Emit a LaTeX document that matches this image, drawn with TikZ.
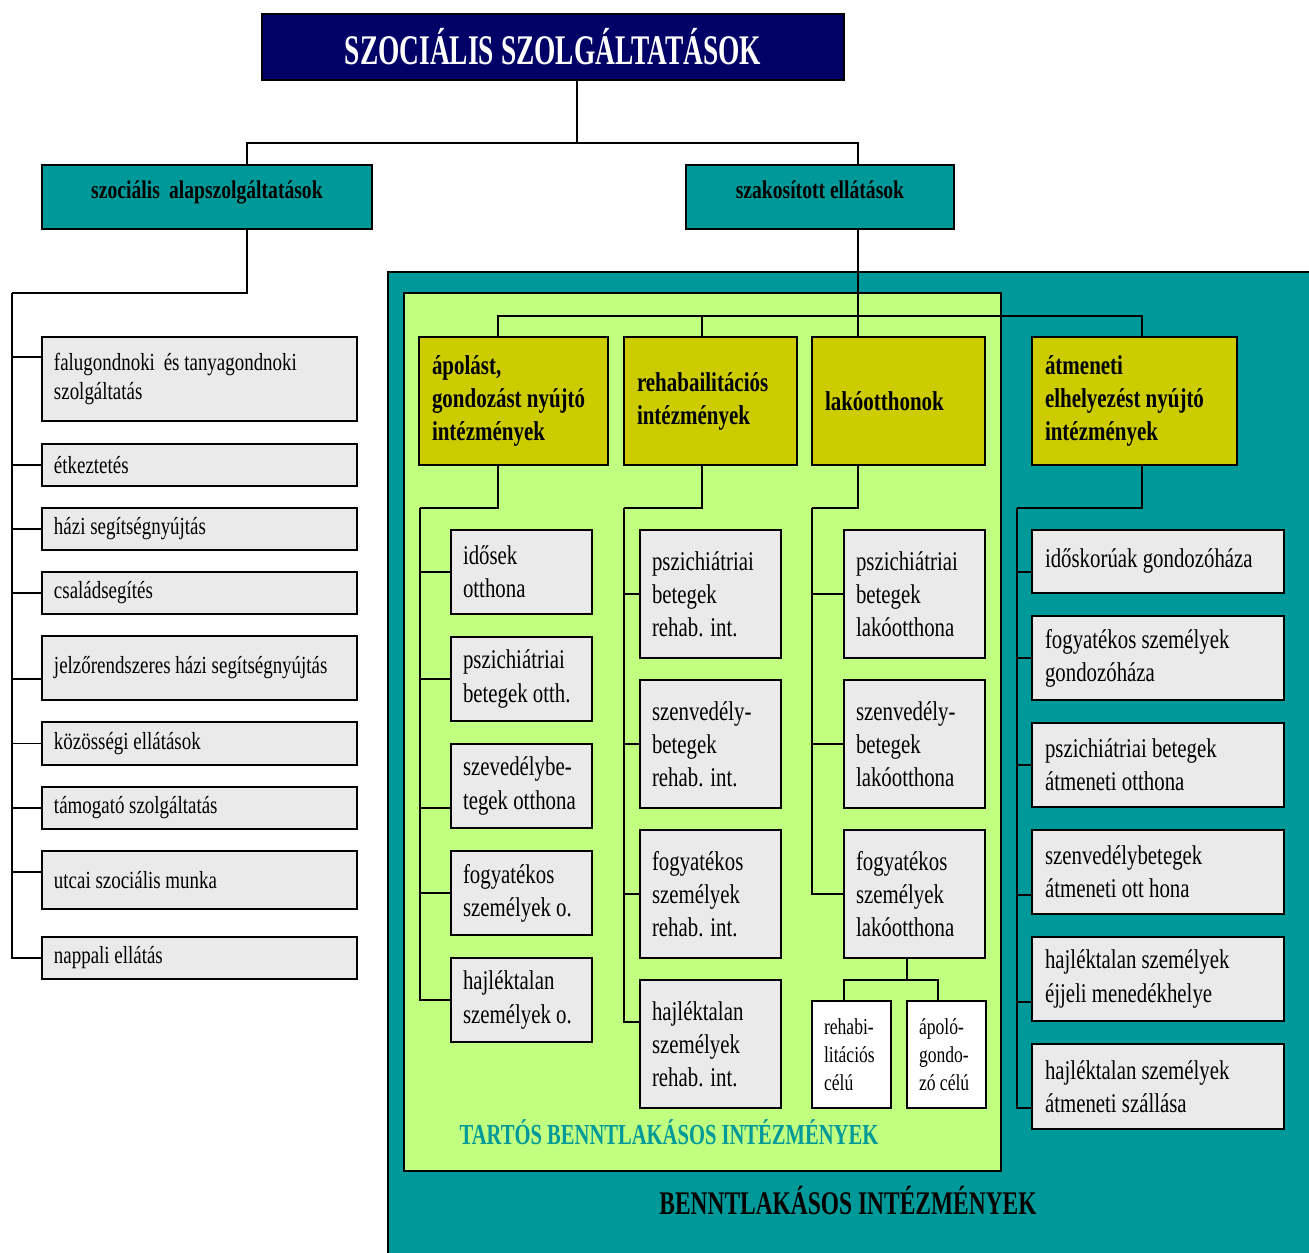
\documentclass[tikz,border=0pt]{standalone}
\usepackage{fontspec}
\setmainfont{Liberation Serif}[FakeStretch=0.77]
\newfontfamily\titlefont{Liberation Serif}[FakeStretch=0.65]
\newfontfamily\panelfont{Liberation Serif}[FakeStretch=0.71]
\definecolor{navyblue}{HTML}{000066}
\definecolor{tealbox}{HTML}{009999}
\definecolor{olivebox}{HTML}{CCCC00}
\definecolor{palegreen}{HTML}{C0FF80}
\definecolor{boxgray}{HTML}{EAEAEA}

\begin{document}
\begin{tikzpicture}[x=0.02cm,y=-0.02cm,line width=0.8pt,
  every node/.style={anchor=north west,inner sep=0pt,outer sep=0pt},
  hbox/.style={draw,fill=tealbox,minimum height=1.28cm,text depth=0.3cm,font=\bfseries\fontsize{14.5}{17}\selectfont},
  ybox/.style={draw,fill=olivebox,minimum height=2.56cm,inner xsep=0.26cm,align=flush left,font=\bfseries\fontsize{15.5}{18.8}\selectfont},
  lbox/.style={draw,fill=boxgray,text width=5.82cm,inner xsep=0.24cm,align=flush left,minimum height=0.84cm,font=\fontsize{14}{17}\selectfont},
  mbox/.style={draw,fill=boxgray,text width=2.34cm,inner xsep=0.24cm,align=flush left,font=\fontsize{15.4}{18.8}\selectfont},
  rbox/.style={draw,fill=boxgray,text width=4.52cm,inner xsep=0.26cm,align=flush left,minimum height=1.68cm,font=\fontsize{15.4}{18.8}\selectfont},
  wbox/.style={draw,fill=white,text width=1.1cm,inner xsep=0.24cm,minimum height=2.14cm,align=flush left,font=\fontsize{13}{16}\selectfont}]
\useasboundingbox (0,0) rectangle (1309,1252);

%panels
\fill[tealbox] (388,272) rectangle (1320,1260);
\draw (388,1260) -- (388,272) -- (1320,272);
\draw[fill=palegreen] (404,293) rectangle (1001,1171);

\node[anchor=center,text=tealbox,font=\panelfont\bfseries\fontsize{16.5}{20}\selectfont] (tartos) at (669,1132) {TARTÓS BENNTLAKÁSOS INTÉZMÉNYEK};
\node[anchor=center,font=\panelfont\bfseries\fontsize{18.8}{22}\selectfont] (benn) at (848,1200) {BENNTLAKÁSOS INTÉZMÉNYEK};

%column positions of the drops
\coordinate (xT) at (577,0);
\coordinate (xA) at (247,0);
\coordinate (xS) at (858,0);
\coordinate (xAp) at (498,0);
\coordinate (xRe) at (702,0);
\coordinate (xAt) at (1142,0);
\coordinate (yb) at (0,316);

\node[draw,fill=navyblue,text=white,minimum width=11.64cm,minimum height=1.32cm,font=\titlefont\bfseries\fontsize{24}{28}\selectfont] (title) at (262,14) {SZOCIÁLIS SZOLGÁLTATÁSOK};

\node[hbox,minimum width=6.6cm] (alap) at (42,165) {szociális\, alapszolgáltatások};
\node[hbox,minimum width=5.36cm] (szak) at (686,165) {szakosított ellátások};

%left column
\node[lbox,minimum height=1.68cm] (l1) at (42,337) {falugondnoki\, és tanyagondnoki\\szolgáltatás};
\node[lbox] (l2) at (42,444) {étkeztetés};
\node[lbox] (l3) at (42,508) {házi segítségnyújtás};
\node[lbox] (l4) at (42,572) {családsegítés};
\node[lbox,minimum height=1.28cm] (l5) at (42,636) {jelzőrendszeres házi segítségnyújtás};
\node[lbox,minimum height=0.86cm] (l6) at (42,722) {közösségi ellátások};
\node[lbox] (l7) at (42,787) {támogató szolgáltatás};
\node[lbox,minimum height=1.16cm] (l8) at (42,851) {utcai szociális munka};
\node[lbox] (l9) at (42,937) {nappali ellátás};

%yellow heads
\node[ybox,text width=3.26cm] (apolo) at (419,337) {ápolást,\\gondozást nyújtó\\intézmények};
\node[ybox,text width=2.94cm] (rehab) at (624,337) {rehabailitációs\\intézmények};
\node[ybox,text width=2.94cm] (lako) at (812,337) {lakóotthonok};
\node[ybox,text width=3.58cm] (atmen) at (1032,337) {átmeneti\\elhelyezést nyújtó\\intézmények};

\node[mbox,minimum height=1.68cm] (a1) at (451,530) {idősek\\otthona};
\node[mbox,minimum height=1.68cm] (a2) at (451,637) {pszichiátriai\\betegek otth.};
\node[mbox,minimum height=1.68cm] (a3) at (451,744) {szevedélybe-\\tegek otthona};
\node[mbox,minimum height=1.68cm] (a4) at (451,851) {fogyatékos\\személyek o.};
\node[mbox,minimum height=1.68cm] (a5) at (451,958) {hajléktalan\\személyek o.};

\node[mbox,minimum height=2.56cm] (b1) at (640,530) {pszichiátriai\\betegek\\rehab. int.};
\node[mbox,minimum height=2.56cm] (b2) at (640,680) {szenvedély-\\betegek\\rehab. int.};
\node[mbox,minimum height=2.56cm] (b3) at (640,830) {fogyatékos\\személyek\\rehab. int.};
\node[mbox,minimum height=2.56cm] (b4) at (640,980) {hajléktalan\\személyek\\rehab. int.};

\node[mbox,minimum height=2.56cm] (c1) at (844,530) {pszichiátriai\\betegek\\lakóotthona};
\node[mbox,minimum height=2.56cm] (c2) at (844,680) {szenvedély-\\betegek\\lakóotthona};
\node[mbox,minimum height=2.56cm] (c3) at (844,830) {fogyatékos\\személyek\\lakóotthona};
\node[wbox] (s1) at (812,1001) {rehabi-\\litációs\\célú};
\node[wbox] (s2) at (907,1001) {ápoló-\\gondo-\\zó célú};

\node[rbox,minimum height=1.26cm] (d1) at (1032,530) {időskorúak gondozóháza};
\node[rbox] (d2) at (1032,616) {fogyatékos személyek\\gondozóháza};
\node[rbox] (d3) at (1032,723) {pszichiátriai betegek\\átmeneti otthona};
\node[rbox] (d4) at (1032,830) {szenvedélybetegek\\átmeneti ott hona};
\node[rbox] (d5) at (1032,937) {hajléktalan személyek\\éjjeli menedékhelye};
\node[rbox,minimum height=1.70cm] (d6) at (1032,1044) {hajléktalan személyek\\átmeneti szállása};

%trunk tops
\coordinate (lt) at (12,293);
\coordinate (ta) at (420,508);
\coordinate (tb) at (624,508);
\coordinate (tc) at (812,508);
\coordinate (td) at (1017,508);

\draw (title.south -| xT) -- ++(0,63) -| (alap.north -| xA);
\draw (title.south -| xT) -- ++(0,63) -| (szak.north -| xS);

\draw (alap.south -| xA) |- (lt);
\draw ([yshift=0.44cm]l1.west) -| (lt);
\draw (l2.west) -| (lt);
\draw (l3.west) -| (lt);
\draw (l4.west) -| (lt);
\draw ([yshift=-0.22cm]l5.west) -| (lt);
\draw (l6.west) -| (lt);
\draw (l7.west) -| (lt);
\draw ([yshift=0.16cm]l8.west) -| (lt);
\draw (l9.west) -| (lt);

\draw (szak.south -| xS) -- (xS |- yb);
\draw (apolo.north -| xAp) -- (xAp |- yb) -- (xAt |- yb) -- (atmen.north -| xAt);
\draw (rehab.north -| xRe) -- (xRe |- yb);
\draw (lako.north -| xS) -- (xS |- yb);

\draw (apolo.south -| xAp) |- (ta);
\draw (a1.west) -| (ta);
\draw (a2.west) -| (ta);
\draw ([yshift=-0.44cm]a3.west) -| (ta);
\draw (a4.west) -| (ta);
\draw (a5.west) -| (ta);

\draw (rehab.south -| xRe) |- (tb);
\draw (b1.west) -| (tb);
\draw (b2.west) -| (tb);
\draw (b3.west) -| (tb);
\draw ([yshift=0.44cm]b4.west) -| (tb);

\draw (lako.south -| xS) |- (tc);
\draw (c1.west) -| (tc);
\draw (c2.west) -| (tc);
\draw (c3.west) -| (tc);
\draw (c3.south -| s2.west) -- ++(0,22);
\draw ([xshift=-0.17cm]s2.north) -- ++(0,-21) -| (s1.north -| c3.west);

\draw (atmen.south -| xAt) |- (td);
\draw ([yshift=-0.21cm]d1.west) -| (td);
\draw (d2.west) -| (td);
\draw (d3.west) -| (td);
\draw ([yshift=-0.46cm]d4.west) -| (td);
\draw ([yshift=-0.46cm]d5.west) -| (td);
\draw ([yshift=-0.43cm]d6.west) -| (td);
\end{tikzpicture}
\end{document}
